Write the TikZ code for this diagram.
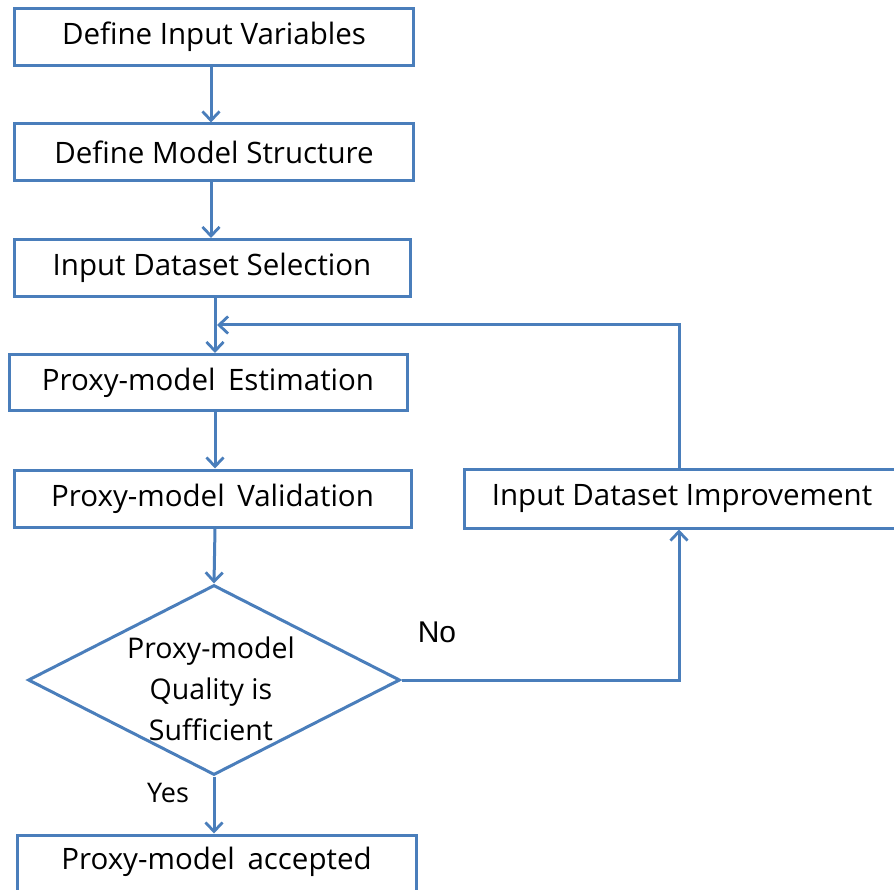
\documentclass[tikz,border=0pt]{standalone}
\usepackage{fontspec}
\setmainfont{Open Sans}
\newfontfamily\arialfont{Liberation Sans}
\usetikzlibrary{shapes.geometric,arrows.meta}
\definecolor{lineblue}{RGB}{74,126,187}
\begin{document}
\begin{tikzpicture}[x=1pt,y=-1pt,
  stepbox/.style={draw=lineblue,line width=3pt,rectangle,inner sep=0pt,
     minimum height=57pt,font=\fontsize{29.5}{34}\selectfont},
  arr/.style={draw=lineblue,line width=3pt,-{Straight Barb[length=9pt,width=17pt,line width=2.8pt]}}]
\useasboundingbox (0,0) rectangle (894,890);
\node[stepbox,minimum width=399pt] (b1) at (214,37) {Define Input Variables};
\node[stepbox,minimum width=399pt] (b2) at (214,152.5) {Define Model Structure};
\node[stepbox,minimum width=396pt] (b3) at (212,268) {Input Dataset Selection};
\node[stepbox,minimum width=398pt,minimum height=56pt] (b4) at (208,382.5) {Proxy-model\, Estimation};
\node[stepbox,minimum width=397pt] (b5) at (212.5,498.5) {Proxy-model\, Validation};
\node[stepbox,minimum width=436pt,minimum height=59pt] (b6) at (682,498.5) {};
\node[font=\fontsize{29.5}{34}\selectfont] (b6t) at (682,498.5) {Input Dataset Improvement};
\node[draw=lineblue,line width=3pt,diamond,aspect=2,inner sep=0pt,minimum width=372pt,minimum height=190pt] (d) at (214,680) {};
\node[align=center,font=\fontsize{28.5}{41}\selectfont] (dt) at (211,689) {Proxy-model\\Quality is\\Sufficient};
\node[stepbox,minimum width=399pt,minimum height=60pt] (b7) at (216.5,865) {};
\node[font=\fontsize{29.5}{34}\selectfont] (b7t) at (216.5,862) {Proxy-model\, accepted};
\node[font=\arialfont\fontsize{30}{34}\selectfont] (no) at (437,632) {No};
\node[font=\fontsize{27}{32}\selectfont] (yes) at (168,793) {Yes};
\coordinate (lx) at (679,0);
\coordinate (sx) at (215,0);
\coordinate (loopin) at (217,325);
\draw[arr] (b1.south -| 211,0) -- (b2.north -| 211,0);
\draw[arr] (b2.south -| 211,0) -- (b3.north -| 211,0);
\draw[arr] (b3.south -| sx) -- (b4.north -| sx);
\draw[arr] (b4.south -| sx) -- (b5.north -| sx);
\draw[arr] (b5.south -| sx) -- (d.north);
\draw[arr] (d.south) -- (b7.north -| d.south);
\draw[arr] (b6.north -| lx) |- (loopin);
\draw[arr] (d.east) -| (b6.south -| lx);
\end{tikzpicture}
\end{document}
